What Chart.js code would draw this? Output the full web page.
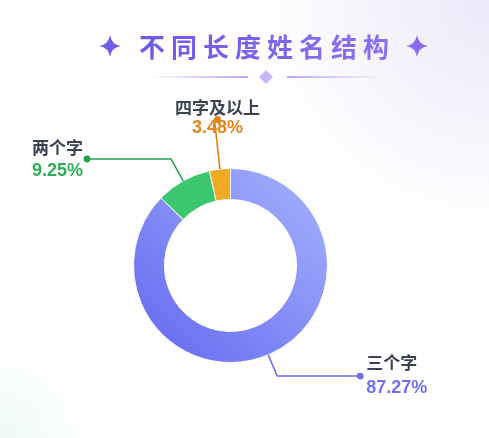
<!DOCTYPE html>
<html lang="zh">

<head>
  <meta charset="UTF-8">
  <title>不同长度姓名结构</title>
  <script src="https://cdn.jsdelivr.net/npm/chart.js"></script>
  <style>
    html, body {
      margin: 0;
      padding: 0;
    }

    body {
      width: 489px;
      height: 438px;
      position: relative;
      overflow: hidden;
      font-family: "Noto Sans CJK SC", "Noto Sans", sans-serif;
      background:
        radial-gradient(circle at 0% 100%, rgba(228, 247, 236, 0.6) 0, rgba(255, 255, 255, 0) 100px),
        radial-gradient(circle at 100% 0%, rgba(236, 234, 250, 1) 0, rgba(255, 255, 255, 0) 240px),
        #ffffff;
    }

    .title {
      position: absolute;
      top: 26px;
      left: 139px;
      white-space: nowrap;
      font-size: 26px;
      font-weight: 700;
      letter-spacing: 6px;
      line-height: 40px;
    }

    .title .text {
      background: linear-gradient(90deg, #6a5ae6, #8e70f2);
      -webkit-background-clip: text;
      background-clip: text;
      color: transparent;
    }

    .star {
      position: absolute;
      top: 35px;
      width: 22px;
      height: 22px;
    }

    .deco {
      position: absolute;
      top: 76px;
      height: 2px;
    }

    .diamond {
      position: absolute;
      left: 261px;
      top: 72px;
      width: 10px;
      height: 10px;
      background: #c7b6f7;
      transform: rotate(45deg);
      border-radius: 1px;
    }

    canvas {
      position: absolute;
      left: 0;
      top: 0;
    }
  </style>
</head>

<body>
  <div class="title"><span class="text">不同长度姓名结构</span></div>
  <svg class="star" style="left:99px" viewBox="0 0 22 22">
    <path d="M11 0 Q12.5 9.5 22 11 Q12.5 12.5 11 22 Q9.5 12.5 0 11 Q9.5 9.5 11 0 Z" fill="#6f5fe9" />
  </svg>
  <svg class="star" style="left:406px" viewBox="0 0 22 22">
    <path d="M11 0 Q12.5 9.5 22 11 Q12.5 12.5 11 22 Q9.5 12.5 0 11 Q9.5 9.5 11 0 Z" fill="#8b6cf1" />
  </svg>
  <div class="deco" style="left:148px;width:100px;background:linear-gradient(90deg, rgba(180,160,245,0), #b9a6f4)"></div>
  <div class="diamond"></div>
  <div class="deco" style="left:287px;width:97px;background:linear-gradient(90deg, #b9a6f4, rgba(180,160,245,0))"></div>

  <canvas id="donutChart" width="489" height="438"></canvas>

  <script>
    // datos
    const categorias = ['三个字', '两个字', '四字及以上'];
    const porcentajes = [87.27, 9.25, 3.48];
    const coloresTexto = ['#6f72f0', '#2eae59', '#e3861c'];
    const coloresLinea = ['#6c6ff0', '#22a34f', '#e08416'];

    // relleno de cada sector (el primero es degradado)
    const relleno = (context) => {
      const i = context.dataIndex;
      if (i === 1) return '#3cc76f';
      if (i === 2) return '#f0aa22';
      const area = context.chart.chartArea;
      if (!area) return '#8a93f7';
      const g = context.chart.ctx.createLinearGradient(area.right, area.top, area.left, area.bottom);
      g.addColorStop(0, '#a6b4fd');
      g.addColorStop(1, '#6366f0');
      return g;
    };

    // etiquetas con línea guía: extensión radial, tramo horizontal y alineación del texto
    const guias = [
      { radial: 23, horiz: 83, align: 'left' },
      { radial: 25, horiz: -84, align: 'right' },
      { radial: 50, horiz: 3, align: 'center' }
    ];

    const etiquetasPlugin = {
      id: 'etiquetas',
      afterDatasetsDraw(chart) {
        const ctx = chart.ctx;
        const meta = chart.getDatasetMeta(0);
        meta.data.forEach((arc, i) => {
          const p = arc.getProps(['x', 'y', 'startAngle', 'endAngle', 'outerRadius'], true);
          const mid = (p.startAngle + p.endAngle) / 2;
          const cos = Math.cos(mid), sin = Math.sin(mid);
          const x0 = p.x + cos * p.outerRadius;
          const y0 = p.y + sin * p.outerRadius;
          const x1 = p.x + cos * (p.outerRadius + guias[i].radial);
          const y1 = p.y + sin * (p.outerRadius + guias[i].radial);
          const x2 = x1 + guias[i].horiz;
          const y2 = y1;

          ctx.save();
          ctx.strokeStyle = coloresLinea[i];
          ctx.fillStyle = coloresLinea[i];
          ctx.lineWidth = 1.6;
          ctx.beginPath();
          ctx.moveTo(x0, y0);
          ctx.lineTo(x1, y1);
          ctx.lineTo(x2, y2);
          ctx.stroke();
          ctx.beginPath();
          ctx.arc(x2, y2, 3.4, 0, Math.PI * 2);
          ctx.fill();

          ctx.textBaseline = 'middle';
          ctx.textAlign = guias[i].align;
          let tx, nameY, pctY;
          if (guias[i].align === 'left') {
            tx = x2 + 6;
            nameY = y2 - 13;
            pctY = y2 + 12;
          } else if (guias[i].align === 'right') {
            tx = x2 - 4;
            nameY = y2 - 11;
            pctY = y2 + 12;
          } else {
            tx = x2;
            nameY = y2 - 12;
            pctY = y2 + 9;
          }
          ctx.font = 'bold 17px "Noto Sans CJK SC", sans-serif';
          ctx.fillStyle = '#3b4252';
          ctx.fillText(categorias[i], tx, nameY);
          ctx.font = 'bold 18px "Liberation Sans", Arial, sans-serif';
          ctx.fillStyle = coloresTexto[i];
          ctx.fillText(porcentajes[i].toFixed(2) + '%', tx, pctY);
          ctx.restore();
        });
      }
    };

    const ctx = document.getElementById('donutChart').getContext('2d');
    const donutChart = new Chart(ctx, {
      type: 'doughnut',
      data: {
        labels: categorias,
        datasets: [{
          data: porcentajes,
          backgroundColor: relleno,
          borderColor: '#ffffff',
          borderWidth: 1,
          hoverOffset: 0
        }]
      },
      options: {
        responsive: false,
        animation: false,
        cutout: '68%',
        layout: {
          padding: { left: 133, right: 161, top: 168, bottom: 75 }
        },
        plugins: {
          legend: { display: false },
          tooltip: { enabled: false }
        }
      },
      plugins: [etiquetasPlugin]
    });
  </script>
</body>

</html>
